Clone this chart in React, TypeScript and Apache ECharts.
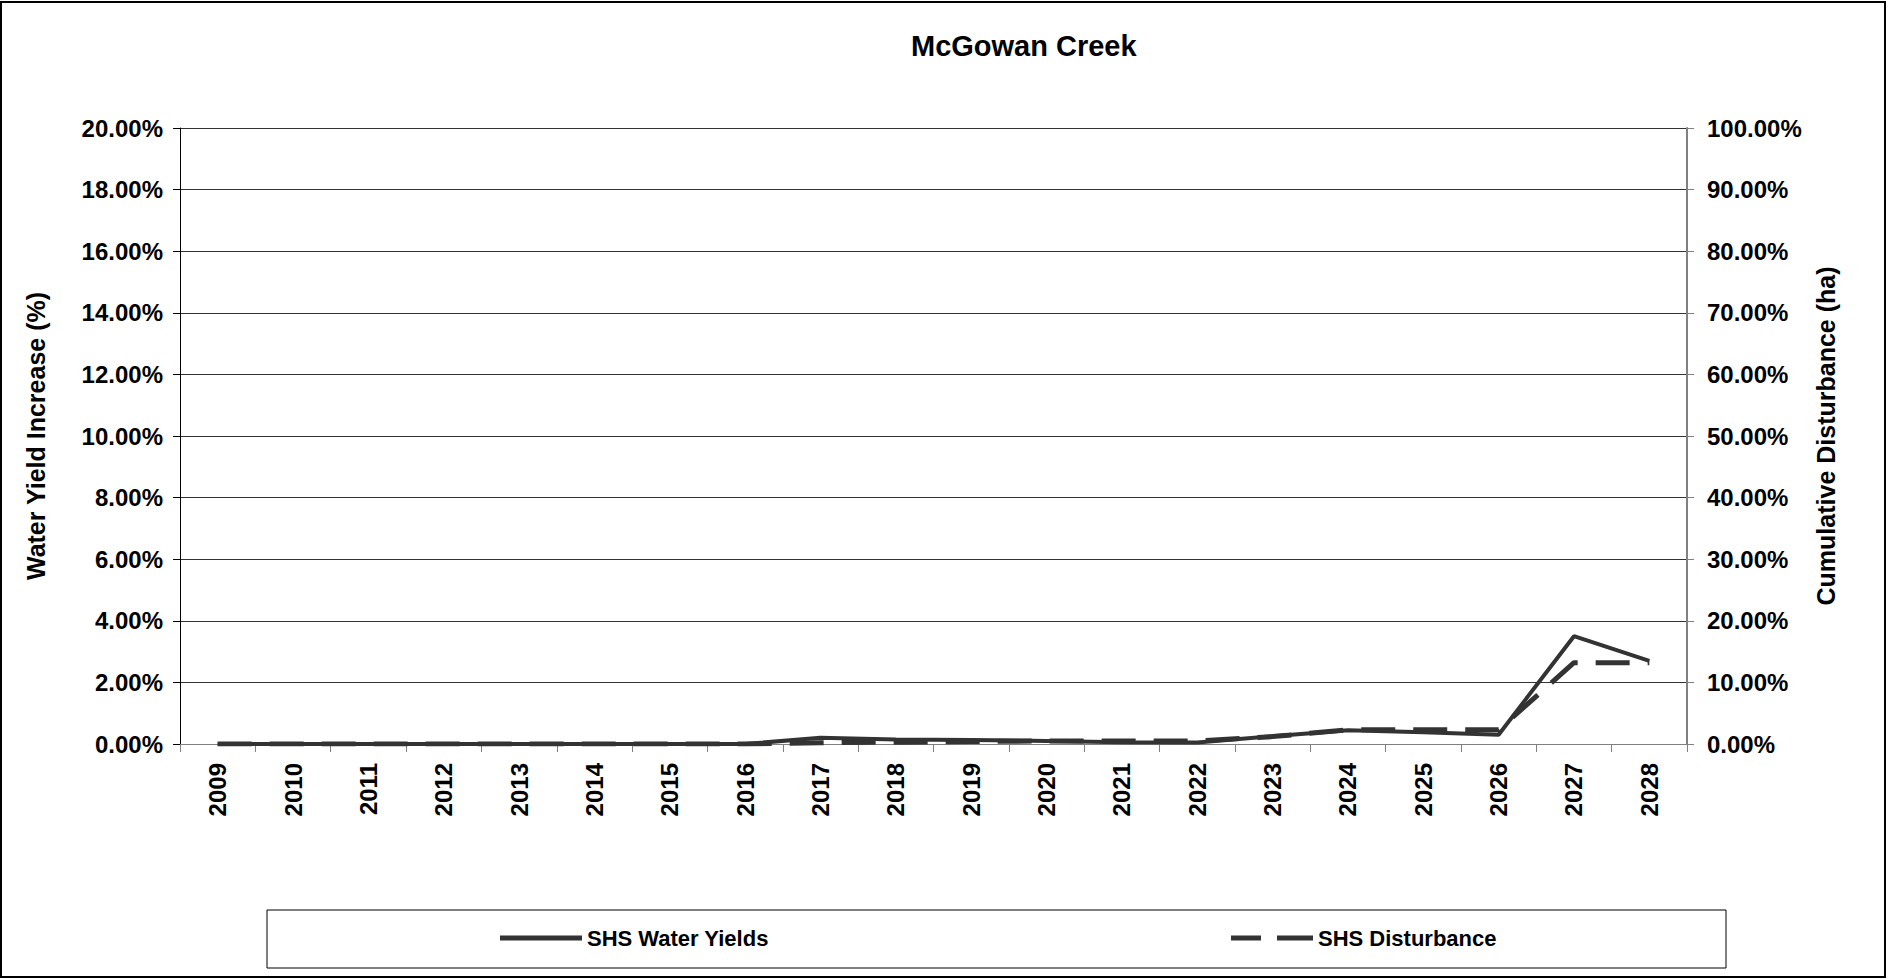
import React, { useEffect, useRef } from "react";
import * as echarts from "echarts";

const years = ["2009","2010","2011","2012","2013","2014","2015","2016","2017","2018","2019","2020","2021","2022","2023","2024","2025","2026","2027","2028"];
const waterYields = [0, 0, 0, 0, 0, 0, 0, 0, 0.2, 0.15, 0.13, 0.1, 0.06, 0.05, 0.25, 0.45, 0.38, 0.3, 3.5, 2.7];
const disturbance = [0, 0, 0, 0, 0, 0, 0, 0, 0.2, 0.3, 0.4, 0.5, 0.5, 0.5, 1.2, 2.3, 2.3, 2.3, 13.2, 13.2];

const FONT = "Arial, 'Liberation Sans', sans-serif";
const SOLID_ICON = "path://M0,0H82V5H0Z";
const DASH_ICON = "path://M0,0H30V5H0Z M46,0H82V5H46Z";

export default function App() {
  const ref = useRef<HTMLDivElement>(null);
  useEffect(() => {
    if (!ref.current) return;
    const chart = echarts.init(ref.current, undefined, { renderer: "svg" });
    const legendText = { fontSize: 22, fontWeight: "bold", color: "#000", fontFamily: FONT };
    chart.setOption({
      animation: false,
      backgroundColor: "#ffffff",
      textStyle: { fontFamily: FONT },
      title: {
        text: "McGowan Creek",
        left: 911,
        top: 31,
        padding: 0,
        textStyle: { fontFamily: FONT, fontWeight: "bold", fontSize: 29, color: "#000" },
      },
      grid: { left: 180, right: 206, top: 128, bottom: 235, containLabel: false },
      xAxis: {
        type: "category",
        data: years,
        boundaryGap: true,
        axisLine: { lineStyle: { color: "#808080", width: 1 } },
        axisTick: { show: true, inside: false, length: 8, lineStyle: { color: "#808080" } },
        axisLabel: { rotate: 90, margin: 19, fontSize: 24, fontWeight: "bold", color: "#000", fontFamily: FONT, interval: 0 },
        splitLine: { show: false },
      },
      yAxis: [
        {
          type: "value",
          min: 0,
          max: 20,
          interval: 2,
          position: "left",
          name: "Water Yield Increase (%)",
          nameLocation: "middle",
          nameRotate: 90,
          nameGap: 132,
          nameTextStyle: { fontSize: 25, fontWeight: "bold", color: "#000", fontFamily: FONT },
          axisLine: { show: true, lineStyle: { color: "#000", width: 1 } },
          axisTick: { show: true, length: 7, lineStyle: { color: "#000" } },
          axisLabel: { margin: 17, fontSize: 24, fontWeight: "bold", color: "#000", fontFamily: FONT, formatter: (v: number) => v.toFixed(2) + "%" },
          splitLine: { show: true, lineStyle: { color: "#333", width: 1 } },
        },
        {
          type: "value",
          min: 0,
          max: 100,
          interval: 10,
          position: "right",
          name: "Cumulative Disturbance (ha)",
          nameLocation: "middle",
          nameRotate: 90,
          nameGap: 126,
          nameTextStyle: { fontSize: 25, fontWeight: "bold", color: "#000", fontFamily: FONT },
          axisLine: { show: true, lineStyle: { color: "#808080", width: 2 } },
          axisTick: { show: true, length: 7, lineStyle: { color: "#808080" } },
          axisLabel: { margin: 20, fontSize: 24, fontWeight: "bold", color: "#000", fontFamily: FONT, formatter: (v: number) => v.toFixed(2) + "%" },
          splitLine: { show: false },
        },
      ],
      legend: [
        {
          data: [{ name: "SHS Water Yields", icon: SOLID_ICON, itemStyle: { color: "#333333" } }],
          left: 500,
          top: 927,
          padding: 0,
          itemWidth: 82,
          itemHeight: 5,
          selectedMode: false,
          textStyle: legendText,
        },
        {
          data: [{ name: "SHS Disturbance", icon: DASH_ICON, itemStyle: { color: "#333333" } }],
          left: 1231,
          top: 927,
          padding: 0,
          itemWidth: 82,
          itemHeight: 5,
          selectedMode: false,
          textStyle: legendText,
        },
      ],
      graphic: [
        {
          type: "rect",
          shape: { x: 1, y: 2, width: 1884, height: 975 },
          style: { fill: "none", stroke: "#000", lineWidth: 2 },
          silent: true,
        },
        {
          type: "rect",
          shape: { x: 267, y: 910, width: 1459, height: 58 },
          style: { fill: "none", stroke: "#000", lineWidth: 1 },
          silent: true,
        },
      ],
      series: [
        {
          name: "SHS Water Yields",
          type: "line",
          yAxisIndex: 0,
          data: waterYields,
          symbol: "none",
          showSymbol: false,
          lineStyle: { color: "#333333", width: 4 },
          itemStyle: { color: "#333333" },
          z: 3,
        },
        {
          name: "SHS Disturbance",
          type: "line",
          yAxisIndex: 1,
          data: disturbance,
          symbol: "none",
          showSymbol: false,
          lineStyle: { color: "#333333", width: 5, type: [34, 18] },
          itemStyle: { color: "#333333" },
          z: 2,
        },
      ],
    });
    return () => chart.dispose();
  }, []);
  return (
    <div
      ref={ref}
      style={{ position: "absolute", left: 0, top: 0, width: 1893, height: 979, background: "#fff" }}
    />
  );
}
